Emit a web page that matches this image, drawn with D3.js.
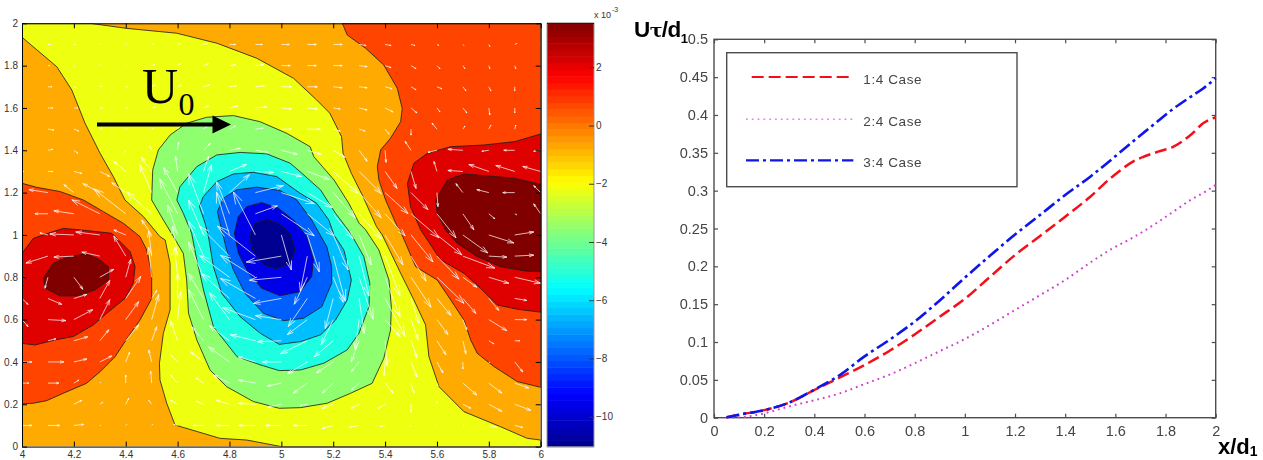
<!DOCTYPE html>
<html>
<head>
<meta charset="utf-8">
<style>
  body { margin: 0; background: #fff; }
  text { font-family: "Liberation Sans", Arial, sans-serif; }
</style>
<script src="https://cdnjs.cloudflare.com/ajax/libs/d3/7.8.5/d3.min.js"></script>
</head>
<body>
<svg id="chart" width="1263" height="460"></svg>
<script>
// left panel: filled contour boundaries, [x, y] in axis units
const contourYellow = [[4,2],[4.262,2],[4.404,1.976],[4.597,1.953],[4.751,1.906],[4.905,1.835],[5.047,1.74],[5.136,1.638],[5.187,1.575],[5.232,1.465],[5.238,1.386],[5.27,1.291],[5.315,1.181],[5.367,1.039],[5.389,1],[5.46,.819],[5.511,.693],[5.556,.575],[5.569,.425],[5.608,.283],[5.704,.165],[5.845,.094],[5.948,.039],[6,.031],[6,0],[5,0],[4.867,.031],[4.764,.039],[4.59,.102],[4.558,.205],[4.532,.315],[4.53,.394],[4.545,.535],[4.571,.646],[4.571,.772],[4.571,.866],[4.552,.976],[4.532,.992],[4.468,1.087],[4.397,1.165],[4.352,1.276],[4.301,1.386],[4.243,1.528],[4.192,1.685],[4.134,1.795],[4,1.934]];
const contourGreen = [[4.815,1.564],[4.712,1.556],[4.635,1.528],[4.571,1.472],[4.526,1.402],[4.504,1.307],[4.5,1.165],[4.545,1.071],[4.584,.992],[4.622,.913],[4.635,.787],[4.642,.63],[4.674,.504],[4.725,.362],[4.789,.283],[4.892,.213],[4.992,.181],[5.074,.184],[5.177,.205],[5.267,.252],[5.35,.299],[5.395,.417],[5.421,.551],[5.424,.661],[5.415,.787],[5.376,.929],[5.325,1.024],[5.3,1.055],[5.26,1.15],[5.203,1.26],[5.125,1.37],[5.111,1.417],[5.021,1.48],[4.918,1.535]];
const contourCyan = [[4.841,1.39],[4.751,1.378],[4.674,1.323],[4.609,1.228],[4.597,1.165],[4.622,1.102],[4.654,1.008],[4.674,.882],[4.7,.74],[4.738,.567],[4.829,.425],[4.919,.386],[4.992,.359],[5.074,.362],[5.164,.394],[5.254,.457],[5.299,.535],[5.338,.661],[5.341,.772],[5.318,.898],[5.267,1.008],[5.248,1.039],[5.209,1.102],[5.151,1.213],[5.072,1.299],[5.034,1.339],[4.944,1.383]];
const contourSky = [[4.892,1.296],[4.815,1.288],[4.751,1.252],[4.699,1.181],[4.684,1.134],[4.706,1.055],[4.719,.992],[4.738,.85],[4.77,.724],[4.841,.614],[4.919,.535],[4.992,.483],[5.074,.496],[5.151,.528],[5.209,.598],[5.254,.693],[5.27,.787],[5.241,.929],[5.203,1],[5.183,1.071],[5.136,1.15],[5.072,1.197],[4.982,1.276]];
const contourBlue = [[4.905,1.226],[4.828,1.213],[4.777,1.174],[4.753,1.11],[4.77,1.024],[4.789,.929],[4.815,.835],[4.86,.724],[4.931,.63],[5.008,.595],[5.085,.606],[5.156,.661],[5.194,.772],[5.194,.851],[5.175,.945],[5.117,1.071],[5.059,1.166],[4.995,1.21]];
const contourDeep = [[4.924,1.153],[4.867,1.134],[4.834,1.087],[4.819,1.008],[4.834,.914],[4.873,.819],[4.924,.748],[4.995,.713],[5.072,.732],[5.117,.803],[5.124,.882],[5.098,.992],[5.047,1.071],[4.989,1.126]];
const contourNavy = [[4.944,1.074],[4.899,1.055],[4.877,.992],[4.892,.921],[4.931,.858],[4.982,.84],[5.034,.866],[5.053,.929],[5.034,1.008],[4.989,1.055]];
const contourRedOrangeLeft = [[4,1.244],[4.057,1.225],[4.147,1.205],[4.237,1.165],[4.314,1.11],[4.391,1.055],[4.455,.992],[4.481,.929],[4.5,.819],[4.5,.7],[4.455,.598],[4.41,.52],[4.359,.425],[4.301,.354],[4.249,.299],[4.159,.252],[4.095,.217],[4.044,.205],[4,.202]];
const contourRedLeft = [[4,.913],[4.044,.984],[4.108,1.011],[4.159,1.031],[4.224,1.024],[4.346,1.008],[4.417,.921],[4.436,.85],[4.429,.772],[4.397,.7],[4.327,.63],[4.275,.575],[4.198,.52],[4.127,.504],[4.05,.48],[4,.488]];
const contourMaroonLeft = [[4.082,.795],[4.121,.866],[4.179,.898],[4.249,.91],[4.301,.882],[4.333,.85],[4.333,.787],[4.282,.74],[4.211,.712],[4.147,.712],[4.089,.748]];
const contourRedOrangeRight = [[5.235,2],[5.254,1.945],[5.325,1.882],[5.395,1.803],[5.447,1.693],[5.466,1.598],[5.46,1.535],[5.421,1.457],[5.383,1.402],[5.37,1.323],[5.376,1.26],[5.402,1.165],[5.447,1.039],[5.457,1.024],[5.518,.85],[5.601,.787],[5.653,.693],[5.704,.598],[5.73,.504],[5.755,.441],[5.82,.378],[5.91,.307],[6,.28],[6,2]];
const contourRedRight = [[6,1.477],[5.9,1.441],[5.781,1.425],[5.653,1.417],[5.563,1.386],[5.511,1.339],[5.486,1.244],[5.498,1.134],[5.537,1.024],[5.614,.882],[5.704,.819],[5.768,.748],[5.833,.669],[5.91,.649],[6,.635]];
const contourMaroonRight = [[6,1.239],[5.897,1.268],[5.794,1.279],[5.704,1.288],[5.64,1.26],[5.595,1.165],[5.601,1.102],[5.633,1.024],[5.678,.961],[5.755,.898],[5.845,.85],[5.948,.828],[6,.827]];

const contourLayers = [contourYellow, contourGreen, contourCyan, contourSky, contourBlue, contourDeep, contourNavy,
    contourRedOrangeLeft, contourRedLeft, contourMaroonLeft, contourRedOrangeRight, contourRedRight, contourMaroonRight];
const contourColors = ["#eeff10", "#8fff70", "#1dffe0", "#00bfff", "#0060ff", "#0000e8", "#000090",
    "#ff4400", "#df0000", "#800000", "#ff4400", "#df0000", "#800000"];

// velocity field, one row per y, columns x = 4.0 .. 6.0
const quiverRows = [1.9,1.8,1.7,1.6,1.5,1.4,1.3,1.2,1.1,1,.9,.8,.7,.6,.5,.4,.3,.2,.1];
const quiverCols = [4,4.1,4.2,4.3,4.4,4.5,4.6,4.7,4.8,4.9,5,5.1,5.2,5.3,5.4,5.5,5.6,5.7,5.8,5.9,6];
const quiverU = [
  [1,3,2,1,1,2,3,4,6,7,8,9,9,7,6,4,2,1,1,2,2],
  [1,2,1,1,1,3,3,5,6,8,9,9,9,8,6,5,3,2,1,1,3],
  [1,4,2,2,2,3,4,6,7,9,10,10,9,8,7,5,5,3,2,0,1],
  [0,5,4,3,2,3,4,5,8,11,10,10,7,8,8,6,3,4,1,0,1],
  [0,6,5,2,1,1,2,4,6,8,10,13,7,6,4,0,-5,2,2,1,0],
  [0,5,4,1,-1,-2,1,7,11,13,16,14,12,8,1,-6,-9,-15,-7,-11,-7],
  [2,5,8,10,-12,-10,-2,5,17,18,20,22,25,22,12,5,-3,-15,-20,-19,-18],
  [0,-19,-10,-17,-14,-12,-14,8,20,28,33,25,22,22,23,17,1,-7,-12,-12,-7],
  [0,-13,-20,-28,-32,-25,-18,-15,-13,22,33,27,20,22,20,28,19,11,6,2,-7],
  [0,-8,-24,-24,-12,-10,-10,-15,-13,-22,10,12,15,12,18,22,25,25,25,19,0],
  [0,-22,-20,-18,-12,-3,-5,-15,-30,-38,-35,-7,12,10,15,15,22,32,18,19,0],
  [1,-3,9,14,5,-3,-3,-15,-30,-35,-32,-13,10,14,15,20,27,14,20,26,0],
  [6,14,13,10,15,5,0,-15,-28,-35,-28,-19,-8,5,20,8,14,13,10,12,0],
  [6,18,19,10,13,7,3,-15,-20,-33,-26,-20,-12,-4,15,7,11,4,18,12,0],
  [0,8,14,9,13,5,-7,-12,-20,-25,-24,-27,-19,-8,2,6,9,3,5,5,0],
  [10,16,13,12,4,-3,-7,-13,-21,-17,-19,-20,-17,-8,-1,6,6,0,1,8,0],
  [7,11,5,1,0,-1,-7,-7,-16,-17,-14,-14,-11,-8,8,3,1,14,13,14,0],
  [1,0,8,3,3,-3,-7,-7,-13,-17,-14,-7,-11,-8,-7,0,0,8,13,16,0],
  [10,12,10,1,1,1,-4,-10,-13,-17,-16,-14,-11,-10,-5,-1,-1,1,8,8,0]
];
const quiverV = [
  [0,0,0,1,0,1,1,1,0,0,0,0,0,-1,-1,-1,-1,-1,-2,1,0],
  [0,0,-1,1,0,1,2,2,1,1,0,0,0,-1,-2,-3,-3,-3,-3,-3,0],
  [0,0,-1,1,0,2,2,2,1,1,0,0,-1,-1,-2,-3,-2,-4,-4,-4,0],
  [0,0,0,0,0,1,2,2,2,1,-1,-1,-1,-2,-4,-5,-4,-5,-7,-5,0],
  [0,-1,-2,1,0,1,3,3,3,1,0,0,-2,-2,-5,-6,6,3,4,4,0],
  [0,1,-3,1,-2,4,8,7,2,-2,-4,-4,-7,-11,-12,9,-2,1,-1,0,-1],
  [0,0,-2,-5,10,14,15,15,7,-1,-5,-8,-22,-22,-17,-17,10,1,7,6,5],
  [0,3,8,9,10,28,25,28,18,7,-11,-15,-25,-25,-21,-17,-14,9,3,0,7],
  [0,0,3,14,25,22,35,40,32,8,-22,-22,-25,-25,-22,-24,-24,-16,-5,-1,10],
  [0,2,1,3,5,15,30,35,43,43,-35,-37,-35,-30,-30,-27,-20,-18,-8,3,0],
  [0,-7,-1,4,20,25,30,35,30,30,-6,-35,-45,-40,-40,-25,-23,-12,-1,1,0],
  [-1,-11,-12,8,18,30,30,35,22,22,-3,-27,-25,-42,-40,-30,-26,-10,-6,-6,0],
  [-6,-6,4,18,22,8,25,25,25,20,-5,-28,-30,-35,-38,-25,-17,-15,-12,-2,0],
  [-7,-1,10,20,18,25,28,30,27,12,4,-15,-25,-30,-17,-20,-15,-10,-11,0,0],
  [0,2,4,11,16,14,20,14,15,6,-1,-13,-16,-21,-25,-17,-14,-13,-3,0,0],
  [0,0,3,6,10,12,7,10,15,5,0,-12,-11,-10,-14,-15,-11,-7,-1,-10,0],
  [0,0,3,1,8,12,8,5,8,3,-3,-10,-10,-7,-10,-10,-3,-12,-10,-5,0],
  [0,0,4,2,6,4,4,3,4,1,-3,-1,-4,-4,-4,-8,3,-4,-7,-6,0],
  [0,0,1,0,1,1,1,0,0,0,0,0,-3,-2,-1,-1,0,0,-2,-2,0]
];

const mapTicksX = [4,4.2,4.4,4.6,4.8,5,5.2,5.4,5.6,5.8,6];
const mapTicksY = [0,.2,.4,.6,.8,1,1.2,1.4,1.6,1.8,2];
const barTicks = [-10,-8,-6,-4,-2,0,2];
const barDomain = [-11.03, 3.51];

// right panel
const seriesX = [.05,.1,.2,.3,.4,.5,.6,.7,.8,.9,1,1.1,1.2,1.3,1.4,1.5,1.58,1.67,1.77,1.83,1.9,1.95,2];
const case14 = [.0005,.004,.01,.02,.0366,.053,.0696,.0885,.11,.1335,.157,.186,.215,.24,.2656,.292,.3163,.3383,.3515,.358,.3736,.389,.397];
const case24 = [0,.0005,.0057,.015,.023,.032,.0445,.057,.072,.088,.104,.1225,.1423,.162,.182,.205,.222,.238,.2585,.272,.2877,.297,.3075];
const case34 = [.0005,.004,.01,.02,.037,.056,.081,.103,.127,.155,.185,.214,.242,.268,.2943,.3185,.34,.365,.392,.408,.424,.435,.4485];
const caseNames = ["1:4 Case", "2:4 Case", "3:4 Case"];
const lineTicksX = [0,.2,.4,.6,.8,1,1.2,1.4,1.6,1.8,2];
const lineTicksY = [0,.05,.1,.15,.2,.25,.3,.35,.4,.45,.5];

const svg = d3.select("#chart");
const defs = svg.append("defs");
defs.append("filter").attr("id", "soft").attr("x", "-2%").attr("y", "-2%").attr("width", "104%").attr("height", "104%")
    .append("feGaussianBlur").attr("stdDeviation", 0.45);

function jet(t) {
    return d3.scaleLinear()
        .domain([0, .125, .375, .625, .875, 1])
        .range(["#00008f", "#0000ff", "#00ffff", "#ffff00", "#ff0000", "#800000"])(t);
}

function drawMap() {
    const xMap = d3.scaleLinear().domain([4, 6]).range([22, 540.7]);
    const yMap = d3.scaleLinear().domain([0, 2]).range([446.6, 23.3]);

    defs.append("clipPath").attr("id", "mapClip").append("rect")
        .attr("x", xMap(4)).attr("y", yMap(2))
        .attr("width", xMap(6) - xMap(4)).attr("height", yMap(0) - yMap(2));

    const g = svg.append("g");
    const plot = g.append("g").attr("clip-path", "url(#mapClip)");

    plot.append("rect")
        .attr("x", xMap(4)).attr("y", yMap(2))
        .attr("width", xMap(6) - xMap(4)).attr("height", yMap(0) - yMap(2))
        .attr("fill", "#ffaa00");

    const area = d3.line().x(d => xMap(d[0])).y(d => yMap(d[1]));
    plot.selectAll("path.level")
        .data(contourLayers)
        .join("path")
        .attr("class", "level")
        .attr("d", d => area(d) + "Z")
        .attr("fill", (d, i) => contourColors[i])
        .attr("stroke", "#1a1a1a")
        .attr("stroke-width", 0.8);

    // quiver, tails on the grid
    const speed = d3.scaleLinear().domain([0, 1]).range([0, 1]);
    const arrows = [];
    quiverRows.forEach((y, r) => {
        quiverCols.forEach((x, c) => {
            const u = quiverU[r][c], v = quiverV[r][c];
            if (u !== 0 || v !== 0) arrows.push({ x, y, u, v });
        });
    });
    plot.append("g").selectAll("path")
        .data(arrows)
        .join("path")
        .attr("d", d => {
            const x0 = xMap(d.x), y0 = yMap(d.y);
            const x1 = x0 + speed(d.u), y1 = y0 - speed(d.v);
            const a = Math.atan2(y1 - y0, x1 - x0);
            const len = Math.hypot(x1 - x0, y1 - y0) * 0.26;
            const b1 = [x1 - len * Math.cos(a - 0.3), y1 - len * Math.sin(a - 0.3)];
            const b2 = [x1 - len * Math.cos(a + 0.3), y1 - len * Math.sin(a + 0.3)];
            return `M${x0},${y0}L${x1},${y1}M${b1}L${x1},${y1}L${b2}`;
        })
        .attr("fill", "none")
        .attr("stroke", "#fff")
        .attr("stroke-width", 0.85)
        .attr("stroke-opacity", 0.85);

    // axes, ticks point inward on all four sides
    const bottom = g.append("g").attr("transform", `translate(0,${yMap(0)})`)
        .call(d3.axisBottom(xMap).tickValues(mapTicksX).tickFormat(d3.format("~g")).tickSizeInner(-5).tickSizeOuter(0).tickPadding(4));
    const left = g.append("g").attr("transform", `translate(${xMap(4)},0)`)
        .call(d3.axisLeft(yMap).tickValues(mapTicksY).tickFormat(d3.format("~g")).tickSizeInner(-5).tickSizeOuter(0).tickPadding(4));
    const top = g.append("g").attr("transform", `translate(0,${yMap(2)})`)
        .call(d3.axisTop(xMap).tickValues(mapTicksX).tickFormat("").tickSizeInner(-5).tickSizeOuter(0));
    const right = g.append("g").attr("transform", `translate(${xMap(6)},0)`)
        .call(d3.axisRight(yMap).tickValues(mapTicksY).tickFormat("").tickSizeInner(-5).tickSizeOuter(0));
    [bottom, left, top, right].forEach(a => {
        a.selectAll("path,line").attr("stroke", "#000");
        a.selectAll("text").attr("font-size", 10).attr("fill", "#333").attr("font-family", "Liberation Sans");
    });

    // U0 annotation
    g.append("text").attr("x", 142).attr("y", 103).attr("font-size", 50).attr("fill", "#000")
        .style("font-family", "'Liberation Serif', serif").text("U");
    g.append("text").attr("x", 178.5).attr("y", 115).attr("font-size", 32).attr("fill", "#000")
        .style("font-family", "'Liberation Serif', serif").text("0");
    g.append("line").attr("x1", 97).attr("x2", 214).attr("y1", 124.5).attr("y2", 124.5)
        .attr("stroke", "#000").attr("stroke-width", 4);
    g.append("path").attr("d", "M212.5,115.5L231,124.5L212.5,133.5Z").attr("fill", "#000");

    // colorbar
    const barX0 = 547, barX1 = 594;
    const yBar = d3.scaleLinear().domain(barDomain).range([446.7, 23.3]);
    const steps = d3.range(64);
    const stepValue = d3.scaleLinear().domain([0, 64]).range(barDomain);
    g.append("g").selectAll("rect")
        .data(steps)
        .join("rect")
        .attr("x", barX0)
        .attr("width", barX1 - barX0)
        .attr("y", d => yBar(stepValue(d + 1)))
        .attr("height", d => yBar(stepValue(d)) - yBar(stepValue(d + 1)) + 0.5)
        .attr("fill", d => jet((d + 0.5) / 64));
    g.append("rect").attr("x", barX0).attr("y", yBar(barDomain[1]))
        .attr("width", barX1 - barX0).attr("height", yBar(barDomain[0]) - yBar(barDomain[1]))
        .attr("fill", "none").attr("stroke", "#999");
    g.append("line").attr("x1", barX0).attr("x2", barX1).attr("y1", 23.3).attr("y2", 23.3).attr("stroke", "#000");
    const barAxis = g.append("g").attr("transform", `translate(${barX1},0)`)
        .call(d3.axisRight(yBar).tickValues(barTicks).tickFormat(d3.format("d")).tickSizeInner(-5).tickSizeOuter(0).tickPadding(2));
    barAxis.select(".domain").remove();
    barAxis.selectAll("line").attr("stroke", "#333");
    barAxis.selectAll("text").attr("font-size", 10).attr("fill", "#333");
    g.append("text").attr("x", 594).attr("y", 18).attr("font-size", 9).attr("fill", "#333").text("x 10");
    g.append("text").attr("x", 612).attr("y", 12).attr("font-size", 7).attr("fill", "#333").text("-3");
}

function drawLines() {
    const x = d3.scaleLinear().domain([0, 2]).range([714, 1215.7]);
    const y = d3.scaleLinear().domain([0, .5]).range([417.7, 39.3]);
    const g = svg.append("g").attr("filter", "url(#soft)");
    const grey = "#4d4d4d";

    g.append("rect").attr("x", x(0)).attr("y", y(.5))
        .attr("width", x(2) - x(0)).attr("height", y(0) - y(.5))
        .attr("fill", "none").attr("stroke", grey).attr("stroke-width", 1.4);

    const bottom = g.append("g").attr("transform", `translate(0,${y(0)})`)
        .call(d3.axisBottom(x).tickValues(lineTicksX).tickFormat(d3.format("~g")).tickSizeInner(-4).tickSizeOuter(0).tickPadding(8));
    const left = g.append("g").attr("transform", `translate(${x(0)},0)`)
        .call(d3.axisLeft(y).tickValues(lineTicksY).tickFormat(d3.format("~g")).tickSizeInner(-4).tickSizeOuter(0).tickPadding(6));
    const top = g.append("g").attr("transform", `translate(0,${y(.5)})`)
        .call(d3.axisTop(x).tickValues(lineTicksX).tickFormat("").tickSizeInner(-4).tickSizeOuter(0));
    const right = g.append("g").attr("transform", `translate(${x(2)},0)`)
        .call(d3.axisRight(y).tickValues(lineTicksY).tickFormat("").tickSizeInner(-4).tickSizeOuter(0));
    [bottom, left, top, right].forEach(a => {
        a.select(".domain").remove();
        a.selectAll("line").attr("stroke", grey).attr("stroke-width", 1.2);
        a.selectAll("text").attr("font-size", 14.5).attr("fill", "#444");
    });

    const line = d3.line().x((d, i) => x(seriesX[i])).y(d => y(d)).curve(d3.curveMonotoneX);
    const styles = [
        { color: "#f5101a", width: 2.5, dash: "12,5" },
        { color: "#cf3fcf", width: 2, dash: "1.8,4" },
        { color: "#0a14e6", width: 2.6, dash: "13,4,3,4" }
    ];
    g.append("g").selectAll("path")
        .data([case14, case24, case34])
        .join("path")
        .attr("d", line)
        .attr("fill", "none")
        .attr("stroke", (d, i) => styles[i].color)
        .attr("stroke-width", (d, i) => styles[i].width)
        .attr("stroke-dasharray", (d, i) => styles[i].dash);

    // legend
    const legend = g.append("g");
    legend.append("rect").attr("x", 726.7).attr("y", 52.7).attr("width", 290.3).attr("height", 134)
        .attr("fill", "none").attr("stroke", grey).attr("stroke-width", 1.4);
    const legendY = [77, 119.3, 160.3];
    const legendX0 = [751.7, 746, 746];
    legendY.forEach((ly, i) => {
        legend.append("line").attr("x1", legendX0[i]).attr("x2", 853.3).attr("y1", ly).attr("y2", ly)
            .attr("stroke", i === 1 ? "#ff70ff" : styles[i].color)
            .attr("stroke-width", styles[i].width - 0.4)
            .attr("stroke-dasharray", styles[i].dash);
        legend.append("text").attr("x", 863.3).attr("y", ly + 7)
            .attr("font-size", 13.5).attr("letter-spacing", 0.6).attr("fill", "#444")
            .text(caseNames[i]);
    });

    // axis titles
    const yTitle = g.append("text").attr("x", 634).attr("y", 37)
        .attr("font-size", 22.5).attr("font-weight", "bold").attr("fill", "#000").attr("letter-spacing", -0.6);
    yTitle.append("tspan").text("U");
    yTitle.append("tspan").attr("font-family", "DejaVu Serif").attr("font-size", 19).text("τ");
    yTitle.append("tspan").text("/d");
    yTitle.append("tspan").attr("font-size", 13).attr("dy", 6).text("1");

    const xTitle = g.append("text").attr("x", 1218).attr("y", 454)
        .attr("font-size", 22).attr("font-weight", "bold").attr("fill", "#000");
    xTitle.append("tspan").text("x/d");
    xTitle.append("tspan").attr("font-size", 14).attr("dy", 2).text("1");
}

drawMap();
drawLines();
</script>
</body>
</html>
